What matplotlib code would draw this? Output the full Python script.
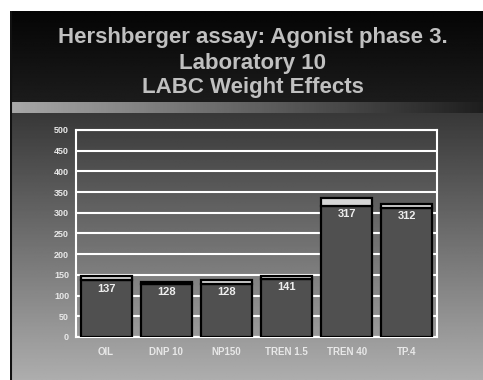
import numpy as np
import matplotlib
matplotlib.use("Agg")
import matplotlib.pyplot as plt

plt.rcParams["font.family"] = ["Liberation Sans", "DejaVu Sans"]
plt.rcParams["font.weight"] = "bold"

#-------------------------------------------------------------
# Data
#-------------------------------------------------------------
groups = ["OIL", "DNP 10", "NP150", "TREN 1.5", "TREN 40", "TP.4"]
mean_wt = [137, 128, 128, 141, 317, 312]
sd_wt = [10, 5, 10, 6, 18, 9]
yticks = [0, 50, 100, 150, 200, 250, 300, 350, 400, 450, 500]

title_lines = ["Hershberger assay: Agonist phase 3.",
               "Laboratory 10",
               "LABC Weight Effects"]

W, H = 483, 380
fig = plt.figure(figsize=(W/100, H/100), dpi=100)
fig.patch.set_facecolor("white")

#-------------------------------------------------------------
# Slide background
#-------------------------------------------------------------
x0, ytop = 10, 11
bg = fig.add_axes([x0/W, 0, 1 - x0/W, (H - ytop)/H])
bg.set_xlim(0, 1)
bg.set_ylim(H - ytop, 0)
bg.axis("off")

# header: near black fading slightly toward bottom
hdr_h = 91
g = np.linspace(0.02, 0.11, 100)[:, None] * np.ones((1, 10))
bg.imshow(g, cmap="gray", vmin=0, vmax=1, extent=[0, 1, hdr_h, 0], aspect="auto")
# horizontal band under header
band = np.linspace(0.66, 0.12, 200)[None, :]
bg.imshow(band, cmap="gray", vmin=0, vmax=1, extent=[0, 1, hdr_h + 11, hdr_h], aspect="auto")
# lower body gradient
body = np.linspace(0.22, 0.68, 200)[:, None] * np.ones((1, 10))
bg.imshow(body, cmap="gray", vmin=0, vmax=1, extent=[0, 1, H - ytop, hdr_h + 11], aspect="auto")
bg.plot([0.002, 0.002], [0, H - ytop], color="#111111", lw=1.5)

for i, line in enumerate(title_lines):
    fig.text(0.523, 1 - (38 + 25*i)/H, line, color="#c0c0c0", fontsize=16,
             ha="center", va="center")

#-------------------------------------------------------------
# Bar chart
#-------------------------------------------------------------
ax = fig.add_axes([76/W, 1 - 337/H, 361/W, 207/H])
ax.patch.set_alpha(0)
x = np.arange(len(groups))
ax.set_axisbelow(True)
ax.grid(axis="y", color="white", lw=1.5)
ax.bar(x, mean_wt, width=0.85, color="#505050", edgecolor="black", lw=1.6, zorder=3)
ax.bar(x, sd_wt, bottom=mean_wt, width=0.85, color="#d6d6d6", edgecolor="black", lw=1.6, zorder=3)

for xi, m in zip(x, mean_wt):
    ax.annotate(str(m), (xi, m), xytext=(0, -2.5), textcoords="offset points",
                ha="center", va="top", color="#eeeeee", fontsize=8, zorder=4)

ax.set_xlim(-0.5, len(groups) - 0.5)
ax.set_ylim(0, 500)
ax.set_yticks(yticks)
ax.set_xticks(x)
ax.set_xticklabels(groups)
ax.tick_params(length=0, colors="#e8e8e8")
ax.tick_params(axis="x", pad=7, labelsize=7)
ax.tick_params(axis="y", pad=5, labelsize=6.5)
for s in ["left", "right", "top", "bottom"]:
    ax.spines[s].set_color("white")
    ax.spines[s].set_linewidth(1.5)

plt.savefig("out.png", dpi=100)
